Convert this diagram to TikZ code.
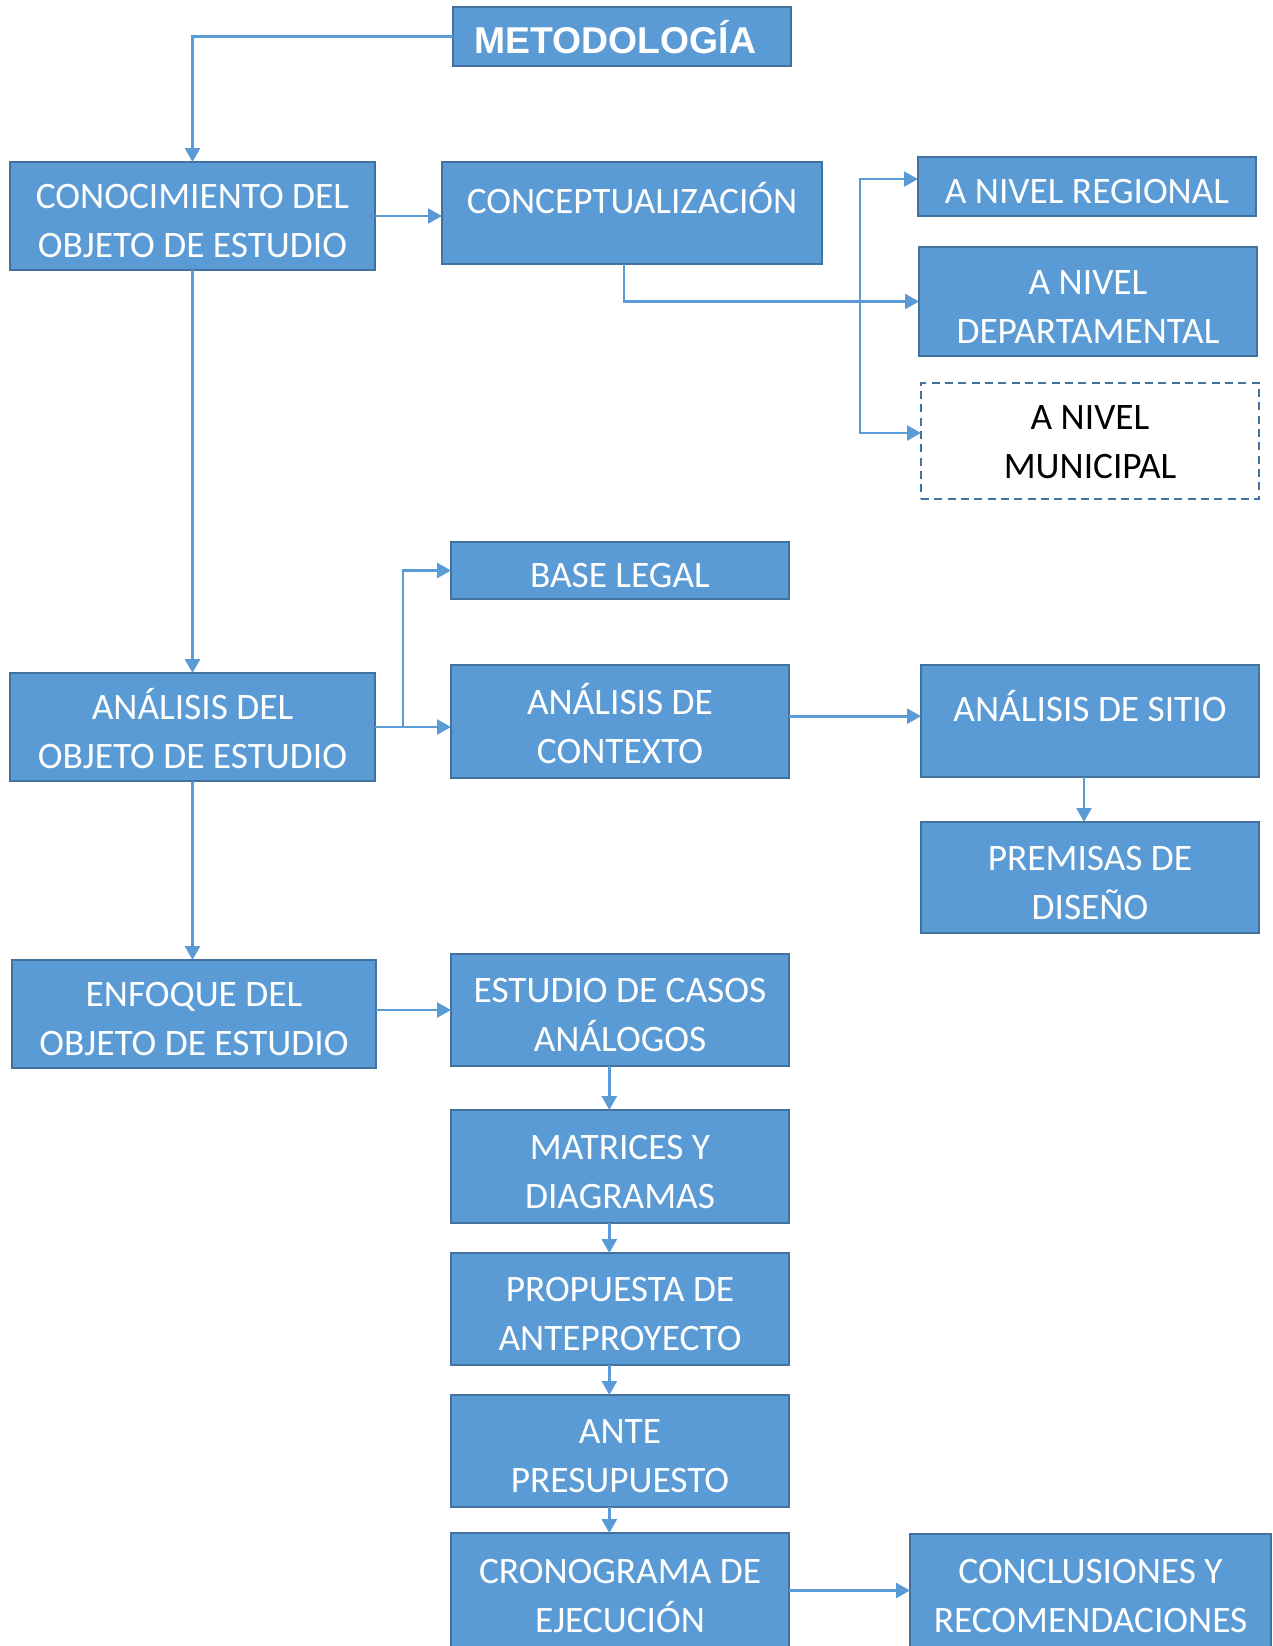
\documentclass[tikz,border=0pt]{standalone}
\usepackage{fontspec}
\setmainfont{Carlito}
\newfontfamily\arialfont{Liberation Sans}
\usetikzlibrary{arrows.meta}
\definecolor{boxfill}{HTML}{5B9BD5}
\definecolor{boxline}{HTML}{41719C}
\definecolor{arrowc}{HTML}{5B9BD5}
\newcommand\ls{\rule[-5.5pt]{0pt}{36.5pt}}
\begin{document}
\begin{tikzpicture}[x=0.75pt,y=-0.75pt,
  box/.style={draw=boxline, line width=1.5pt, fill=boxfill, text=white, inner sep=0pt, outer sep=0pt, align=center, font=\fontsize{28}{36.75}\selectfont},
  dbox/.style={box, fill=white, text=black, dash pattern=on 6pt off 4pt},
  conn/.style={draw=arrowc, line width=2pt, -{Triangle[width=11.25pt,length=10.5pt]}},
]
\useasboundingbox (0,0) rectangle (1273,1646);

\node[box, minimum width={(791-453)*0.75pt}, minimum height={(66-7)*0.75pt}] (meto) at (622,36.5) {\arialfont\bfseries\ls METODOLOGÍA\hspace*{10pt}};
\node[box, minimum width={(375-10)*0.75pt}, minimum height={(270-162)*0.75pt}] (cono) at (192.5,216) {\ls CONOCIMIENTO DEL\\\ls OBJETO DE ESTUDIO};
\node[box, minimum width={(822-442)*0.75pt}, minimum height={(264-162)*0.75pt}] (concept) at (632,213) {\ls CONCEPTUALIZACIÓN\\[-11.25pt]\ls};
\node[box, minimum width={(1256-918)*0.75pt}, minimum height={(216-157)*0.75pt}] (reg) at (1087,186.5) {\ls A NIVEL REGIONAL};
\node[box, minimum width={(1257-919)*0.75pt}, minimum height={(356-247)*0.75pt}] (dept) at (1088,301.5) {\ls A NIVEL\\\ls DEPARTAMENTAL};
\node[dbox, minimum width={(1259-921)*0.75pt}, minimum height={(499-383)*0.75pt}] (mun) at (1090,441) {\ls A NIVEL\\\ls MUNICIPAL\rule[-12.25pt]{0pt}{12.25pt}};
\node[box, minimum width={(789-451)*0.75pt}, minimum height={(599-542)*0.75pt}] (legal) at (620,570.5) {\ls BASE LEGAL};
\node[box, minimum width={(375-10)*0.75pt}, minimum height={(781-673)*0.75pt}] (anal) at (192.5,727) {\ls ANÁLISIS DEL\\\ls OBJETO DE ESTUDIO};
\node[box, minimum width={(789-451)*0.75pt}, minimum height={(778-665)*0.75pt}] (ctx) at (620,721.5) {\ls ANÁLISIS DE\\\ls CONTEXTO};
\node[box, minimum width={(1259-921)*0.75pt}, minimum height={(777-665)*0.75pt}] (sitio) at (1090,721) {\ls ANÁLISIS DE SITIO\\[-11.25pt]\ls};
\node[box, minimum width={(1259-921)*0.75pt}, minimum height={(933-822)*0.75pt}] (prem) at (1090,877.5) {\ls PREMISAS DE\\\ls DISEÑO};
\node[box, minimum width={(376-12)*0.75pt}, minimum height={(1068-960)*0.75pt}] (enf) at (194,1014) {\ls ENFOQUE DEL\\\ls OBJETO DE ESTUDIO};
\node[box, minimum width={(789-451)*0.75pt}, minimum height={(1066-954)*0.75pt}] (est) at (620,1010) {\ls ESTUDIO DE CASOS\\\ls ANÁLOGOS};
\node[box, minimum width={(789-451)*0.75pt}, minimum height={(1223-1110)*0.75pt}] (mat) at (620,1166.5) {\ls MATRICES Y\\\ls DIAGRAMAS};
\node[box, minimum width={(789-451)*0.75pt}, minimum height={(1365-1253)*0.75pt}] (prop) at (620,1309) {\ls PROPUESTA DE\\\ls ANTEPROYECTO};
\node[box, minimum width={(789-451)*0.75pt}, minimum height={(1507-1395)*0.75pt}] (ante) at (620,1451) {\ls ANTE\\\ls PRESUPUESTO};
\node[box, minimum width={(789-451)*0.75pt}, minimum height={(1648-1533)*0.75pt}] (crono) at (620,1590.5) {\ls CRONOGRAMA DE\\\ls EJECUCIÓN};
\node[box, minimum width={(1271-910)*0.75pt}, minimum height={(1648-1534)*0.75pt}] (concl) at (1090.5,1591) {\ls CONCLUSIONES Y\\\ls RECOMENDACIONES};

\coordinate (bus1) at (860,301.5);
\coordinate (bus2) at (403,727);

\draw[conn] (meto.west) -| (cono.north);
\draw[conn] (cono.east) -- (cono.east -| concept.west);
\draw[conn] ([xshift=-6pt]concept.south) |- (dept.west);
\draw[conn] (bus1) |- ([yshift=5.6pt]reg.west);
\draw[conn] (bus1) |- ([yshift=6pt]mun.west);
\draw[conn] (cono.south) -- (cono.south |- anal.north);
\draw[conn] (anal.east) -- (anal.east -| ctx.west);
\draw[conn] (bus2) |- (legal.west);
\draw[conn] ([yshift=4pt]ctx.east) -- ([yshift=4pt]ctx.east -| sitio.west);
\draw[conn] ([xshift=-4.5pt]sitio.south) -- ([xshift=-4.5pt]sitio.south |- prem.north);
\draw[conn] (anal.south) -- (anal.south |- enf.north);
\draw[conn] (enf.east |- est.west) -- (est.west);
\draw[conn] ([xshift=-8pt]est.south) -- ([xshift=-8pt]mat.north);
\draw[conn] ([xshift=-8pt]mat.south) -- ([xshift=-8pt]prop.north);
\draw[conn] ([xshift=-8pt]prop.south) -- ([xshift=-8pt]ante.north);
\draw[conn] ([xshift=-8pt]ante.south) -- ([xshift=-8pt]crono.north);
\draw[conn] (crono.east) -- (crono.east -| concl.west);
\end{tikzpicture}
\end{document}
